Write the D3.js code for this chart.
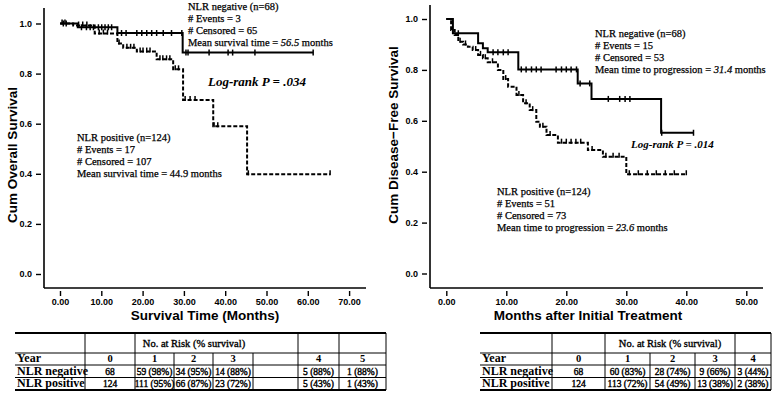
<!DOCTYPE html>
<html>
<head>
<meta charset="utf-8">
<script src="https://cdn.jsdelivr.net/npm/d3@7"></script>
<style>
  html, body { margin: 0; padding: 0; background: #fff; }
  svg { display: block; }
</style>
</head>
<body>
<svg id="chart" width="773" height="404"></svg>
<script>
// ---------------- DATA ----------------
// Left panel: overall survival
const osXTicks = [0, 10, 20, 30, 40, 50, 60, 70];
const osYTicks = [0, 0.2, 0.4, 0.6, 0.8, 1.0];
const osNegTimes = [0, 4.3, 13.9, 29.7];
const osNegSurv  = [1.0, 0.985, 0.962, 0.884];
const osNegEnd = 61.3;
const osNegCensor = [0.8, 1.5, 5.2, 6.4, 7.3, 8.1, 9.3, 10.1, 10.9, 11.7, 12.5, 14.9, 16, 18.6, 19.8, 21, 22.2, 23.4, 25, 27, 29.5, 30.5, 31, 36.1, 40.7, 41.8, 47.2, 61.3];
const osPosTimes = [0, 3.2, 8.4, 13.9, 15.3, 18.6, 23.4, 27.4, 29.8, 37.1, 45.3];
const osPosSurv  = [1.0, 0.992, 0.96, 0.92, 0.903, 0.888, 0.857, 0.817, 0.695, 0.59, 0.398];
const osPosEnd = 65.4;
const osPosCensor = [0.5, 1.2, 4.5, 5.5, 6.5, 9.5, 10.5, 11.5, 14.3, 16.2, 17.1, 17.9, 19.4, 20.1, 21, 21.8, 24.2, 24.9, 25.8, 26.6, 27.9, 28.7, 30.3, 31.5, 32.7, 37.3, 38.2, 45.6, 65.4];
const osNegText = ["NLR negative (n=68)", "# Events = 3", "# Censored = 65", "Mean survival time = |56.5| months"];
const osPosText = ["NLR positive (n=124)", "# Events = 17", "# Censored = 107", "Mean survival time = 44.9 months"];
const osLogRank = "Log-rank P = .034";
const osXTitle = "Survival Time (Months)";
const osYTitle = "Cum Overall Survival";

// Right panel: disease-free survival
const dfsXTicks = [0, 10, 20, 30, 40, 50];
const dfsYTicks = [0, 0.2, 0.4, 0.6, 0.8, 1.0];
const dfsNegTimes = [0, 1.1, 5.3, 6.1, 6.9, 12.0, 21.9, 24.2, 35.8];
const dfsNegSurv  = [1.0, 0.944, 0.905, 0.885, 0.869, 0.802, 0.747, 0.686, 0.553];
const dfsNegEnd = 41.2;
const dfsNegCensor = [2.0, 7.8, 8.6, 9.5, 10.3, 12.5, 13.3, 14.2, 15.0, 15.8, 18.3, 19.2, 20.0, 20.8, 21.7, 22.3, 23.9, 27.0, 28.9, 29.8, 30.6, 35.9, 41.2];
const dfsPosTimes = [0, 0.8, 1.4, 2.0, 2.8, 3.6, 4.4, 5.3, 6.1, 6.9, 8.6, 9.5, 10.3, 11.7, 12.8, 13.9, 15.0, 15.6, 16.7, 18.6, 23.6, 26.1, 30.0];
const dfsPosSurv  = [1.0, 0.957, 0.937, 0.911, 0.9, 0.891, 0.878, 0.859, 0.846, 0.83, 0.8, 0.764, 0.734, 0.701, 0.669, 0.642, 0.596, 0.577, 0.544, 0.514, 0.485, 0.459, 0.39];
const dfsPosEnd = 40.0;
const dfsPosCensor = [2.3, 3.2, 4.9, 5.7, 6.5, 7.7, 9.9, 12.1, 13.3, 14.4, 16.1, 17.3, 19.2, 20.0, 20.8, 21.6, 22.4, 24.3, 26.6, 27.8, 28.8, 30.5, 32.0, 33.5, 35.0, 36.5, 38.0, 40.0];
const dfsNegText = ["NLR negative (n=68)", "# Events = 15", "# Censored = 53", "Mean time to progression = |31.4| months"];
const dfsPosText = ["NLR positive (n=124)", "# Events = 51", "# Censored = 73", "Mean time to progression = |23.6| months"];
const dfsLogRank = "Log-rank P = .014";
const dfsXTitle = "Months after Initial Treatment";
const dfsYTitle = "Cum Disease\u2212Free Survival";

// Tables
const osYears = ["0", "1", "2", "3", "4", "5"];
const osRiskNeg = ["68", "59 (98%)", "34 (95%)", "14 (88%)", "5 (88%)", "1 (88%)"];
const osRiskPos = ["124", "111 (95%)", "66 (87%)", "23 (72%)", "5 (43%)", "1 (43%)"];
const dfsYears = ["0", "1", "2", "3", "4"];
const dfsRiskNeg = ["68", "60 (83%)", "28 (74%)", "9 (66%)", "3 (44%)"];
const dfsRiskPos = ["124", "113 (72%)", "54 (49%)", "13 (38%)", "2 (38%)"];
const rowLabels = ["Year", "NLR negative", "NLR positive"];
const riskHeader = "No. at Risk (% survival)";

// ---------------- DRAW ----------------
const svg = d3.select("#chart");
svg.append("rect").attr("width", 773).attr("height", 404).attr("fill", "#fff");

const SANS = "'Liberation Sans', Arial, sans-serif";
const SERIF = "'Liberation Serif', 'Times New Roman', serif";

function panel(o) {
  const g = svg.append("g");
  const x = d3.scaleLinear().domain([0, o.xMax]).range([o.x0, o.x1]);
  const y = d3.scaleLinear().domain([0, 1]).range([o.y0, o.y1]);

  g.append("line").attr("x1", o.axX).attr("x2", o.axX).attr("y1", o.axTop).attr("y2", o.axY)
    .attr("stroke", "#000").attr("stroke-width", 1.6);
  g.append("line").attr("x1", o.axX).attr("x2", o.axRight).attr("y1", o.axY).attr("y2", o.axY)
    .attr("stroke", "#000").attr("stroke-width", 1.6);

  const ya = g.append("g").attr("transform", `translate(${o.axX - 3},0)`)
    .call(d3.axisLeft(y).tickValues(o.yTicks).tickFormat(d3.format(".1f")).tickSize(5).tickPadding(4));
  ya.select(".domain").remove();
  ya.selectAll("line").attr("stroke-width", 1.4);
  ya.selectAll("text").attr("font-family", SANS).attr("font-weight", "bold").attr("font-size", 9);

  const xa = g.append("g").attr("transform", `translate(0,${o.axY + 3})`)
    .call(d3.axisBottom(x).tickValues(o.xTicks).tickFormat(d3.format(".2f")).tickSize(5).tickPadding(3));
  xa.select(".domain").remove();
  xa.selectAll("line").attr("stroke-width", 1.4);
  xa.selectAll("text").attr("font-family", SANS).attr("font-weight", "bold").attr("font-size", 9);

  g.append("text").attr("x", o.xTitleX).attr("y", o.xTitleY).attr("text-anchor", "middle")
    .attr("font-family", SANS).attr("font-weight", "bold").attr("font-size", 13.5).text(o.xTitle);
  g.append("text").attr("transform", `translate(${o.yTitleX},${o.yTitleY}) rotate(-90)`).attr("text-anchor", "middle")
    .attr("font-family", SANS).attr("font-weight", "bold").attr("font-size", 13.5).text(o.yTitle);

  const line = d3.line().x(d => x(d[0])).y(d => y(d[1])).curve(d3.curveStepAfter);
  function curve(times, surv, end, censor, dashed) {
    const pts = times.map((t, i) => [t, surv[i]]);
    pts.push([end, surv[surv.length - 1]]);
    g.append("path").attr("d", line(pts)).attr("fill", "none").attr("stroke", "#000")
      .attr("stroke-width", 2).attr("stroke-dasharray", dashed ? "4,2" : null);
    const sAt = t => { let s = surv[0]; for (let i = 0; i < times.length; i++) if (times[i] <= t) s = surv[i]; return s; };
    g.selectAll(null).data(censor).enter().append("line")
      .attr("x1", d => x(d)).attr("x2", d => x(d))
      .attr("y1", d => y(sAt(d)) - (dashed ? 4 : 3)).attr("y2", d => y(sAt(d)) + (dashed ? 1 : 3))
      .attr("stroke", "#000").attr("stroke-width", 1.5);
  }
  curve(o.negT, o.negS, o.negEnd, o.negC, false);
  curve(o.posT, o.posS, o.posEnd, o.posC, true);

  function block(lines, bx, by) {
    lines.forEach((ln, i) => {
      const t = g.append("text").attr("x", bx).attr("y", by + i * 12)
        .attr("font-family", SERIF).attr("font-size", 10.5)
        .attr("stroke", "#000").attr("stroke-width", 0.25);
      ln.split("|").forEach((part, j) => {
        t.append("tspan").attr("font-style", j === 1 ? "italic" : null).text(part);
      });
    });
  }
  block(o.negText, o.negTX, o.negTY);
  block(o.posText, o.posTX, o.posTY);
  g.append("text").attr("x", o.lrX).attr("y", o.lrY).attr("font-family", SERIF)
    .attr("font-weight", "bold").attr("font-style", "italic").attr("font-size", o.lrSize).text(o.logRank);
}

panel({
  xMax: 70, x0: 60, x1: 349.1, y0: 274, y1: 23.5,
  axX: 44, axTop: 8, axY: 288, axRight: 366,
  xTicks: osXTicks, yTicks: osYTicks,
  xTitle: osXTitle, xTitleX: 205, xTitleY: 320,
  yTitle: osYTitle, yTitleX: 17, yTitleY: 155,
  negT: osNegTimes, negS: osNegSurv, negEnd: osNegEnd, negC: osNegCensor,
  posT: osPosTimes, posS: osPosSurv, posEnd: osPosEnd, posC: osPosCensor,
  negText: osNegText, negTX: 188, negTY: 10,
  posText: osPosText, posTX: 77, posTY: 141,
  logRank: osLogRank, lrX: 208, lrY: 86, lrSize: 13
});

panel({
  xMax: 50, x0: 446.3, x1: 746.3, y0: 273.5, y1: 19,
  axX: 430, axTop: 5, axY: 288, axRight: 763,
  xTicks: dfsXTicks, yTicks: dfsYTicks,
  xTitle: dfsXTitle, xTitleX: 588, xTitleY: 320,
  yTitle: dfsYTitle, yTitleX: 398, yTitleY: 135,
  negT: dfsNegTimes, negS: dfsNegSurv, negEnd: dfsNegEnd, negC: dfsNegCensor,
  posT: dfsPosTimes, posS: dfsPosSurv, posEnd: dfsPosEnd, posC: dfsPosCensor,
  negText: dfsNegText, negTX: 595, negTY: 37,
  posText: dfsPosText, posTX: 497, posTY: 195,
  logRank: dfsLogRank, lrX: 631, lrY: 148, lrSize: 11
});

// tables
function table(cols, valCells, headLines, headSpan, years, neg, pos) {
  const g = svg.append("g");
  const rowsY = [333, 353, 365, 377.5, 390];
  const x0 = cols[0], x1 = cols[cols.length - 1];
  g.append("line").attr("x1", x0).attr("x2", x1).attr("y1", rowsY[0]).attr("y2", rowsY[0]).attr("stroke", "#000").attr("stroke-width", 2);
  [1, 2, 3].forEach(i => g.append("line").attr("x1", x0).attr("x2", x1).attr("y1", rowsY[i]).attr("y2", rowsY[i]).attr("stroke", "#000").attr("stroke-width", 1));
  g.append("line").attr("x1", x0).attr("x2", x1).attr("y1", rowsY[4]).attr("y2", rowsY[4]).attr("stroke", "#000").attr("stroke-width", 2);
  for (let c = 1; c < cols.length; c++) {
    const full = headLines.includes(c);
    g.append("line").attr("x1", cols[c]).attr("x2", cols[c])
      .attr("y1", full ? rowsY[0] : rowsY[1]).attr("y2", rowsY[4])
      .attr("stroke", "#000").attr("stroke-width", 1);
  }
  const txt = (s, x, y, anchor, size, bold, sw) => g.append("text").attr("x", x).attr("y", y).attr("text-anchor", anchor)
    .attr("font-family", SERIF).attr("font-size", size).attr("font-weight", bold ? "bold" : null)
    .attr("stroke", "#000").attr("stroke-width", sw).text(s);
  txt(riskHeader, (cols[headSpan[0]] + cols[headSpan[1]]) / 2, 346.5, "middle", 10.5, false, 0.35);
  const baseY = [362, 374.5, 387];
  rowLabels.forEach((lb, r) => txt(lb, x0 + 2, baseY[r], "start", 12, true, 0));
  years.forEach((v, i) => { const c = valCells[i]; txt(v, (cols[c] + cols[c + 1]) / 2, baseY[0], "middle", 10.5, true, 0); });
  [neg, pos].forEach((arr, r) => arr.forEach((v, i) => {
    const c = valCells[i];
    txt(v, (cols[c] + cols[c + 1]) / 2, baseY[r + 1], "middle", 9.5, false, 0.4);
  }));
}
table([15, 85, 135, 174, 213, 253, 298, 339, 386], [1, 2, 3, 4, 6, 7], [1, 2, 6, 7, 8], [2, 5],
      osYears, osRiskNeg, osRiskPos);
table([480, 552, 605, 650, 695, 735, 771], [1, 2, 3, 4, 5], [1, 2, 5, 6], [2, 5],
      dfsYears, dfsRiskNeg, dfsRiskPos);
</script>
</body>
</html>
